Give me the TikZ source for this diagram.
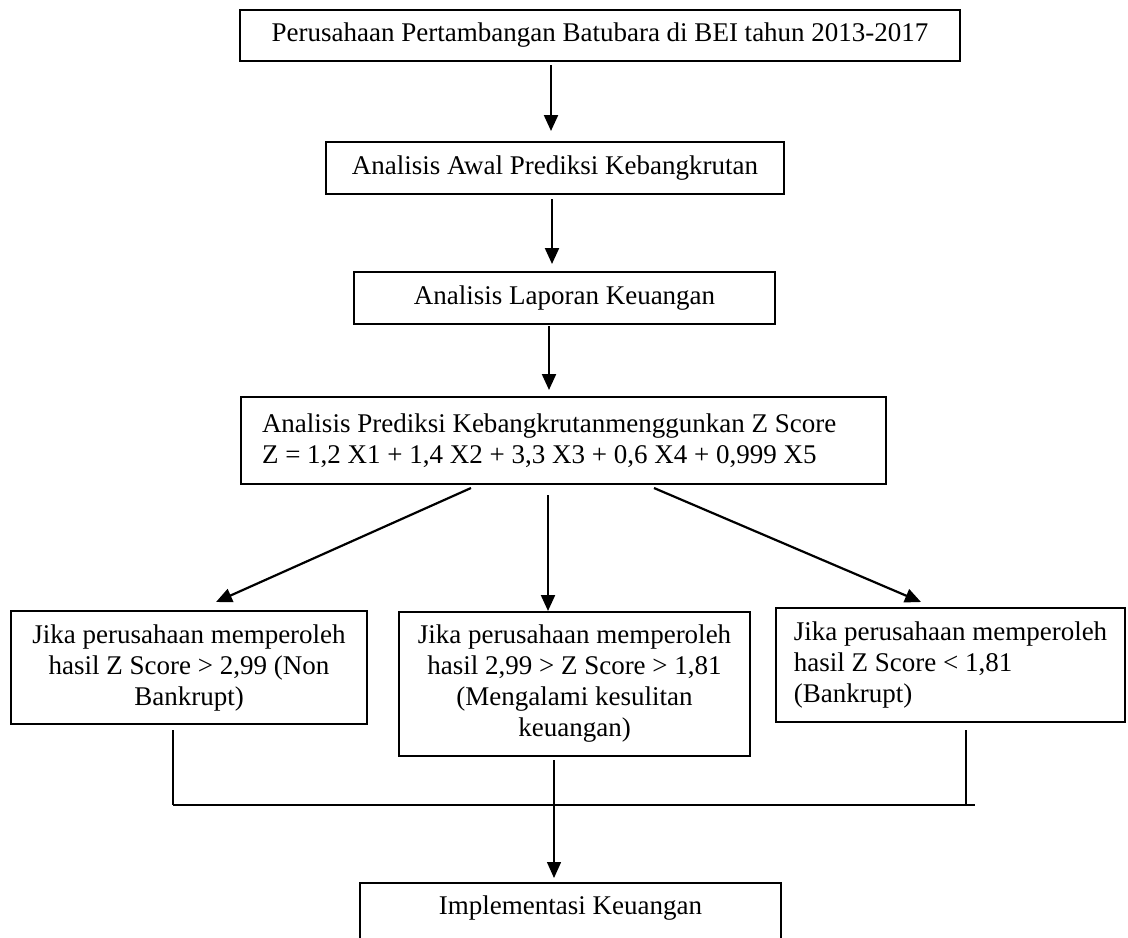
\documentclass[tikz,border=0pt]{standalone}
\usepackage{fontspec}
\setmainfont{Liberation Serif}
\usetikzlibrary{arrows.meta,calc}
\begin{document}
\begin{tikzpicture}[x=0.5pt,y=-0.5pt,
  box/.style={draw,line width=1pt,inner sep=0pt,font=\fontsize{13.5}{15.5}\selectfont},
  lbl/.style={inner sep=0pt,font=\fontsize{13.5}{15.5}\selectfont},
  arr/.style={line width=1.1pt,-{Triangle[length=8pt,width=7pt]}},
  thinline/.style={line width=0.7pt},
  thickline/.style={line width=1.4pt}]
\clip (0,0) rectangle (1128,937);
\fill[white] (0,0) rectangle (1128,937);

\node[box,minimum width=360pt,minimum height=25.5pt] (b1) at (600,35.5) {Perusahaan Pertambangan Batubara di BEI tahun 2013-2017};
\node[box,minimum width=229pt,minimum height=26pt] (b2) at (555,168) {Analisis Awal Prediksi Kebangkrutan};
\node[box,minimum width=210.5pt,minimum height=26pt] (b3) at (564.5,298) {Analisis Laporan Keuangan};
\node[box,minimum height=43.5pt,text width=301.5pt,inner xsep=10.5pt,align=flush left] (b4) at (563.5,440.5) {Analisis Prediksi Kebangkrutanmenggunkan Z Score\\Z = 1,2 X1 + 1,4 X2 + 3,3 X3 + 0,6 X4 + 0,999 X5};
\node[box,minimum width=178pt,minimum height=56.5pt,align=center] (lbox) at (189,667.5) {Jika perusahaan memperoleh\\hasil Z Score > 2,99 (Non\\Bankrupt)};
\node[box,minimum width=175.5pt,minimum height=72pt,align=center] (mbox) at (574.5,684) {Jika perusahaan memperoleh\\hasil 2,99 > Z Score > 1,81\\(Mengalami kesulitan\\keuangan)};
\node[box,minimum width=174.5pt,minimum height=57pt,align=left] (rbox) at (950.5,665) {Jika perusahaan memperoleh\\hasil Z Score < 1,81\\(Bankrupt)};
\node[box,anchor=north,minimum width=210.5pt,minimum height=50pt] (impl) at (570.5,882) {};
\node[lbl] (impltext) at (570.5,908) {Implementasi Keuangan};

% vertical arrows
\draw[arr] ($(b1.south)+(-49,3)$) -- ($(b2.north)+(-4,-10)$);
\draw[arr] ($(b2.south)+(-3,4)$) -- ($(b3.north)+(-12.5,-7)$);
\draw[arr] ($(b3.south)+(-15.5,1)$) -- ($(b4.north)+(-14.5,-6)$);

% branch arrows
\draw[arr] ($(b4.south)+(-92.5,3)$) -- ($(lbox.north)+(27,-8)$);
\draw[arr] ($(b4.south)+(-15.5,10)$) -- ($(mbox.north)+(-26.5,0)$);
\draw[arr] ($(b4.south)+(90.5,3)$) -- ($(rbox.north)+(-29.5,-5)$);

% merge
\coordinate (jl) at (173,805);
\coordinate (jr) at (975,805);
\draw[thinline] ($(lbox.south)+(-16,5)$) -- (jl);
\draw[thinline] ($(rbox.south)+(15.5,7)$) -- ($(rbox.south)+(15.5,83)$);
\draw[thickline] (jl) -- (jr);
\draw[thinline,-{Triangle[length=8pt,width=7pt]}] ($(mbox.south)+(-20.5,3)$) -- ($(impl.north)+(-16.5,-4)$);
\end{tikzpicture}
\end{document}
